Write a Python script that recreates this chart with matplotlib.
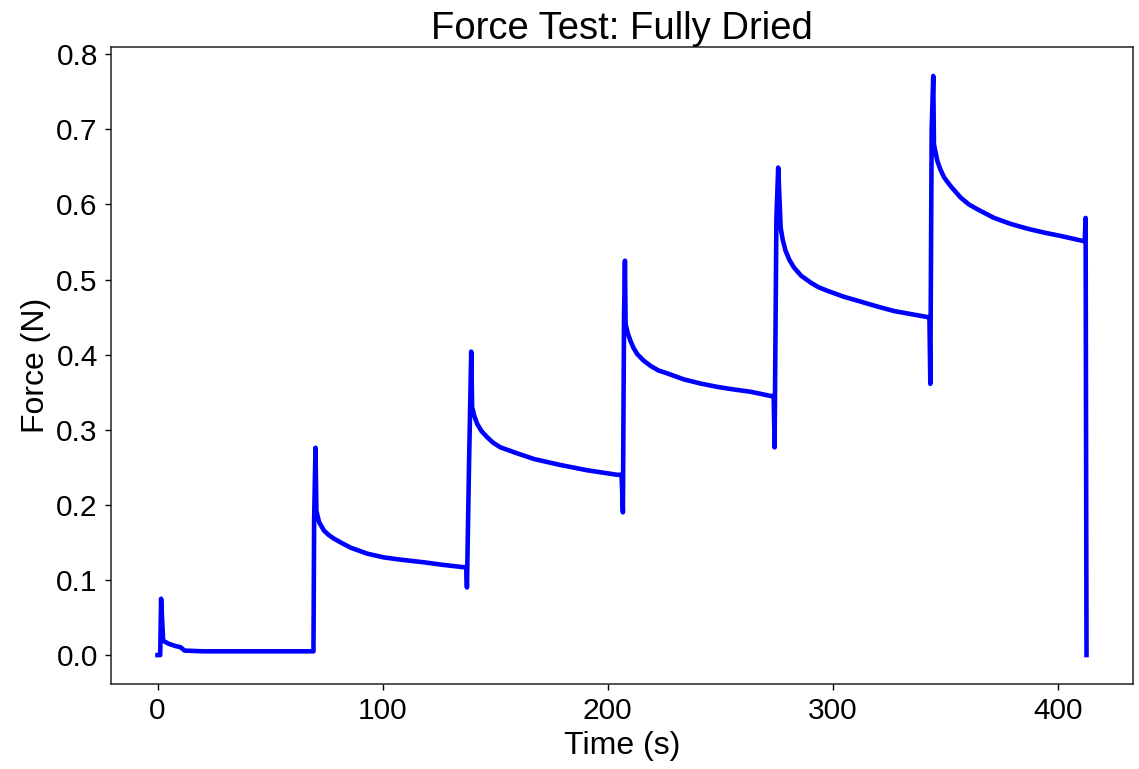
import numpy as np
import matplotlib
matplotlib.use("Agg")
import matplotlib.pyplot as plt

plt.rcParams['font.family'] = ['Liberation Sans', 'DejaVu Sans']

# ── Données (temps en s, force en N) ──────────────────────────────────────────
# palier 0 : petite pré-charge
t_pal0 = [0.0, 1.2, 1.6, 2.5, 5.0, 8.0, 10.2, 12.0, 20.0, 40.0, 60.0, 69.3]
f_pal0 = [0.0, 0.0, 0.075, 0.019, 0.015, 0.012, 0.0105, 0.006, 0.005, 0.005, 0.005, 0.005]

# palier 1
t_pal1 = [69.6, 70.2, 70.6, 71.8, 73.9, 76.0, 78.4, 82.0, 85.8, 93.2, 100.6, 108.0,
          118.4, 127.0, 136.0, 137.2, 137.5]
f_pal1 = [0.18, 0.276, 0.192, 0.177, 0.166, 0.160, 0.155, 0.149, 0.143, 0.135, 0.130, 0.127,
          0.1235, 0.120, 0.117, 0.117, 0.090]

# palier 2
t_pal2 = [138.4, 139.4, 139.8, 140.8, 142.1, 144.0, 146.5, 149.0, 152.4, 159.9, 167.3,
          179.1, 191.0, 204.3, 206.2, 206.8]
f_pal2 = [0.25, 0.404, 0.330, 0.318, 0.3075, 0.298, 0.290, 0.283, 0.2765, 0.2685, 0.261,
          0.253, 0.246, 0.240, 0.240, 0.190]

# palier 3
t_pal3 = [207.3, 207.7, 208.0, 209.0, 210.2, 211.5, 213.2, 216.0, 219.1, 222.5, 226.5,
          233.9, 241.3, 248.8, 256.1, 263.6, 272.4, 273.8, 274.2]
f_pal3 = [0.45, 0.525, 0.4405, 0.428, 0.418, 0.409, 0.4006, 0.392, 0.385, 0.379, 0.375,
          0.367, 0.3615, 0.357, 0.3536, 0.3505, 0.345, 0.345, 0.2765]

# palier 4
t_pal4 = [275.0, 275.8, 276.9, 277.8, 279.1, 280.8, 282.8, 286.0, 290.2, 293.5, 297.6,
          305.0, 312.4, 319.9, 327.3, 334.7, 342.1, 343.0, 343.4]
f_pal4 = [0.58, 0.649, 0.569, 0.553, 0.538, 0.526, 0.516, 0.505, 0.496, 0.490, 0.485,
          0.477, 0.4706, 0.464, 0.458, 0.454, 0.450, 0.450, 0.361]

# palier 5 + décharge finale
t_pal5 = [344.0, 344.7, 345.0, 346.5, 347.8, 349.5, 352.5, 356.9, 360.5, 364.3, 371.7,
          379.1, 386.5, 394.0, 401.3, 410.2, 412.0, 412.4, 412.8]
f_pal5 = [0.70, 0.771, 0.680, 0.658, 0.647, 0.636, 0.624, 0.609, 0.600, 0.5935, 0.582,
          0.574, 0.5677, 0.5624, 0.558, 0.552, 0.551, 0.582, 0.0]

temps = np.concatenate([t_pal0, t_pal1, t_pal2, t_pal3, t_pal4, t_pal5])
force = np.concatenate([f_pal0, f_pal1, f_pal2, f_pal3, f_pal4, f_pal5])

# ── Graphique ─────────────────────────────────────────────────────────────────
fig, ax = plt.subplots(figsize=(11.39, 7.69), dpi=100)
fig.subplots_adjust(left=0.0975, right=0.9947, top=0.9389, bottom=0.1105)

ax.plot(temps, force, color='blue', linewidth=3.3, solid_joinstyle='round')

ax.set_title("Force Test: Fully Dried", fontsize=27.5)
ax.set_xlabel("Time (s)", fontsize=23)
ax.set_ylabel("Force (N)", fontsize=23)
ax.set_xticks([0, 100, 200, 300, 400])
ax.set_yticks(np.arange(0, 0.81, 0.1))
ax.set_yticklabels([f"{v:.1f}" for v in np.arange(0, 0.81, 0.1)])
ax.tick_params(labelsize=21.5, length=4.5, width=1.0, pad=5)
for sp in ax.spines.values():
    sp.set_linewidth(1.1)
    sp.set_color('#222222')

fig.savefig("out.png", dpi=100)
